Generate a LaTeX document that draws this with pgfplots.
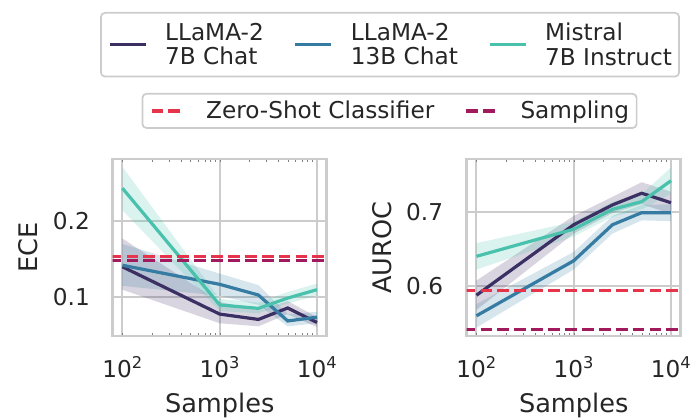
\documentclass[border=0pt]{standalone}
\usepackage{pgfplots}
\pgfplotsset{compat=1.18}
\usepackage{fontspec}
\setmainfont{DejaVu Sans}
\definecolor{cA}{HTML}{3B2F63}
\definecolor{cB}{HTML}{357BA2}
\definecolor{cC}{HTML}{49C1AD}
\definecolor{cZ}{HTML}{E6344A}
\definecolor{cS}{HTML}{A11A5B}
\definecolor{gridc}{HTML}{CCCCCC}
\definecolor{txt}{HTML}{262626}

\tikzset{
  ln/.style={line width=3.2pt},
  dsh/.style={line width=3.2pt, dash pattern=on 11.8pt off 5.1pt},
}

\begin{document}
\begin{tikzpicture}
% ---------------- ECE ----------------
\begin{axis}[at={(112.7pt,83pt)}, anchor=south west,
    scale only axis, width=214pt, height=177pt,
    xmode=log, xmin=79.43, xmax=12589,
    xtick={100,1000,10000},
    xticklabels={10\textsuperscript{2},10\textsuperscript{3},10\textsuperscript{4}},
    minor tick num=0, major tick length=0pt,
    xmajorgrids, ymajorgrids, major grid style={draw=gridc, line width=2.1pt},
    axis line style={draw=gridc, line width=2.65pt},
    tick label style={font=\fontsize{23.2}{27}\selectfont, text=txt},
    xticklabel style={anchor=base, yshift=-42pt, inner sep=0pt},
    yticklabel style={anchor=east, xshift=-22.7pt, inner sep=0pt},
    xlabel={Samples},
    xlabel style={at={(axis description cs:0.5,0)}, anchor=base, yshift=-77pt, font=\fontsize{25.6}{30}\selectfont, text=txt, inner sep=0pt},
    ylabel style={at={(axis description cs:-0.3523,0.5)}, anchor=base, font=\fontsize{25.6}{30}\selectfont, text=txt, inner sep=0pt},
  ymin=0.0493, ymax=0.2813, ytick={0.1,0.2}, yticklabels={0.1,0.2},
  ylabel={ECE},
  legend columns=3, legend cell align=left,
  legend image code/.code={\draw[#1] (0pt,0pt) -- (36pt,0pt);},
  legend style={at={(axis description cs:1.2958,1.8305)}, anchor=north,
    draw=gridc, line width=1.7pt, rounded corners=4pt,
    font=\fontsize{23.2}{24.6}\selectfont, text=txt,
    inner xsep=7pt, inner ysep=10pt,
    nodes={inner sep=0pt},
    cells={align=left},
    /tikz/every odd column/.append style={column sep=18pt},
    /tikz/every even column/.append style={column sep=30pt}},
]
% bands: upper edge left to right, then lower edge right to left
\addplot[fill=cA, fill opacity=0.2, draw=none, forget plot] coordinates {
 (100,0.177) (1000,0.094) (2500,0.083) (5000,0.095) (10000,0.074)
 (10000,0.061) (5000,0.078) (2500,0.062) (1000,0.066) (100,0.110)} -- cycle;
\addplot[fill=cB, fill opacity=0.2, draw=none, forget plot] coordinates {
 (100,0.170) (1000,0.131) (2500,0.116) (5000,0.078) (10000,0.081)
 (10000,0.066) (5000,0.062) (2500,0.090) (1000,0.102) (100,0.115)} -- cycle;
\addplot[fill=cC, fill opacity=0.2, draw=none, forget plot] coordinates {
 (100,0.271) (1000,0.098) (2500,0.093) (5000,0.107) (10000,0.118)
 (10000,0.102) (5000,0.092) (2500,0.079) (1000,0.082) (100,0.214)} -- cycle;
\addplot[cA, ln] coordinates {(100,0.140) (1000,0.078) (2500,0.071) (5000,0.086) (10000,0.067)};
\addlegendentry{{LLaMA-2\\7B Chat}}
\addplot[cB, ln] coordinates {(100,0.142) (1000,0.117) (2500,0.103) (5000,0.069) (10000,0.074)};
\addlegendentry{{LLaMA-2\\13B Chat}}
\addplot[cC, ln] coordinates {(100,0.243) (1000,0.090) (2500,0.0855) (5000,0.099) (10000,0.110)};
\addlegendentry{{Mistral\\7B Instruct}}
\addplot[cZ, dsh, forget plot] coordinates {(10,0.1532) (100000,0.1532)};
\addplot[cS, dsh, forget plot] coordinates {(10,0.1480) (100000,0.1480)};
\end{axis}
% ---------------- AUROC ----------------
\begin{axis}[at={(466.7pt,83pt)}, anchor=south west,
    scale only axis, width=214pt, height=177pt,
    xmode=log, xmin=79.43, xmax=12589,
    xtick={100,1000,10000},
    xticklabels={10\textsuperscript{2},10\textsuperscript{3},10\textsuperscript{4}},
    minor tick num=0, major tick length=0pt,
    xmajorgrids, ymajorgrids, major grid style={draw=gridc, line width=2.1pt},
    axis line style={draw=gridc, line width=2.65pt},
    tick label style={font=\fontsize{23.2}{27}\selectfont, text=txt},
    xticklabel style={anchor=base, yshift=-42pt, inner sep=0pt},
    yticklabel style={anchor=east, xshift=-23.4pt, inner sep=0pt},
    xlabel={Samples},
    xlabel style={at={(axis description cs:0.5,0)}, anchor=base, yshift=-77pt, font=\fontsize{25.6}{30}\selectfont, text=txt, inner sep=0pt},
    ylabel style={at={(axis description cs:-0.3505,0.5)}, anchor=base, font=\fontsize{25.6}{30}\selectfont, text=txt, inner sep=0pt},
  ymin=0.5315, ymax=0.7726, ytick={0.6,0.7}, yticklabels={0.6,0.7},
  ylabel={AUROC},
  legend columns=2, legend cell align=left,
  legend image code/.code={\draw[#1] (0pt,0pt) -- (33pt,0pt);},
  legend style={at={(axis description cs:-0.3607,1.3729)}, anchor=north,
    draw=gridc, line width=1.7pt, rounded corners=4pt,
    font=\fontsize{23.2}{24.6}\selectfont, text=txt,
    inner xsep=7.5pt, inner ysep=7.5pt,
    nodes={inner sep=0pt},
    /tikz/every odd column/.append style={column sep=20pt},
    /tikz/every even column/.append style={column sep=30pt}},
]
\addplot[fill=cA, fill opacity=0.2, draw=none, forget plot] coordinates {
 (100,0.607) (1000,0.695) (2500,0.721) (5000,0.741) (10000,0.728)
 (10000,0.698) (5000,0.711) (2500,0.699) (1000,0.671) (100,0.567)} -- cycle;
\addplot[fill=cB, fill opacity=0.2, draw=none, forget plot] coordinates {
 (100,0.575) (1000,0.646) (2500,0.695) (5000,0.710) (10000,0.711)
 (10000,0.688) (5000,0.689) (2500,0.671) (1000,0.622) (100,0.543)} -- cycle;
\addplot[fill=cC, fill opacity=0.2, draw=none, forget plot] coordinates {
 (100,0.658) (1000,0.687) (2500,0.714) (5000,0.725) (10000,0.761)
 (10000,0.725) (5000,0.704) (2500,0.694) (1000,0.667) (100,0.622)} -- cycle;
\addplot[cA, ln, forget plot] coordinates {(100,0.587) (1000,0.683) (2500,0.710) (5000,0.726) (10000,0.713)};
\addplot[cB, ln, forget plot] coordinates {(100,0.559) (1000,0.634) (2500,0.683) (5000,0.6995) (10000,0.6995)};
\addplot[cC, ln, forget plot] coordinates {(100,0.640) (1000,0.677) (2500,0.704) (5000,0.7145) (10000,0.743)};
\addplot[cZ, dsh] coordinates {(10,0.594) (100000,0.594)};
\addlegendentry{Zero-Shot Classifier}
\addplot[cS, dsh] coordinates {(10,0.5405) (100000,0.5405)};
\addlegendentry{Sampling}
\end{axis}
\path (0,0) rectangle (693pt,419pt);
\end{tikzpicture}
\end{document}
